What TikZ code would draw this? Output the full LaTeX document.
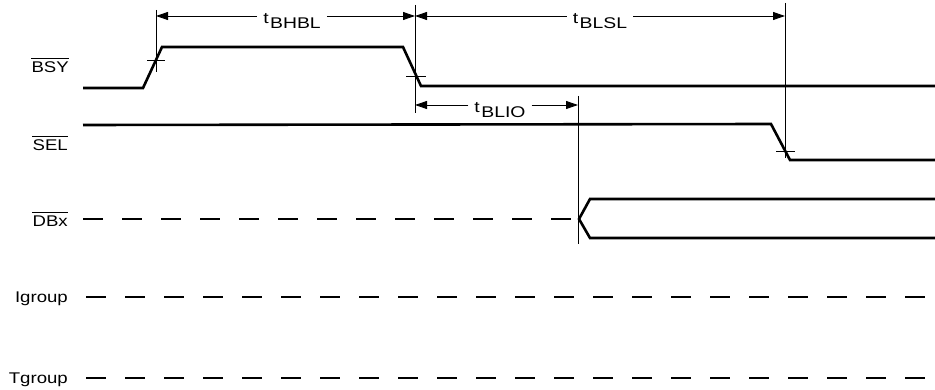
\documentclass[tikz,border=0pt]{standalone}
\usepackage{fontspec}
\setmainfont{Liberation Sans}
\newfontfamily\sigfont[FakeStretch=1.2]{Liberation Sans}
\newfontfamily\timefont[FakeStretch=1.25]{Liberation Sans}
\usetikzlibrary{arrows.meta}
\newcommand{\tlabel}[1]{t\kern1.5pt\raisebox{-5pt}{#1}}

\begin{document}
\begin{tikzpicture}[
x=1pt,y=-1pt,
signal/.style={line width=2.6pt},
floatsig/.style={line width=2.6pt,dash pattern=on 20pt off 19pt},
extline/.style={line width=0.8pt},
overbar/.style={line width=1.2pt},
dimline/.style={line width=0.9pt,-{Triangle[length=12pt,width=8pt]}},
siglabel/.style={anchor=base east,inner sep=0pt,
font=\sigfont\fontsize{15.5}{18}\selectfont},
timelabel/.style={anchor=base,inner xsep=6pt,inner ysep=0pt,
font=\timefont\fontsize{15.5}{18}\selectfont}
]
\useasboundingbox (0,0) rectangle (935,390);

% signal names
\node[siglabel] (bsy) at (69,73) {BSY};
\node[siglabel] (sel) at (68,151) {SEL};
\node[siglabel] (dbx) at (68,227) {DBx};
\node[siglabel] (igroup) at (68,303) {Igroup};
\node[siglabel] (tgroup) at (68,383) {Tgroup};
\foreach \s in {bsy,sel,dbx}
  \draw[overbar] ([yshift=3.5pt]\s.north west) -- ([yshift=3.5pt]\s.north east);

% waveforms
\draw[signal] (83,88) -- (143,88) -- (162,47) -- (403,47) -- (421,86) -- (935,86);
\draw[signal] (83,125) -- (771,124) -- (790,160) -- (935,160);
\draw[floatsig] (83,219) -- (580,219);
\draw[signal] (935,199) -- (590,199) -- (579,219) -- (590,238) -- (935,238);
\draw[floatsig] (86,297) -- (925,297);
\draw[floatsig] (86,378) -- (925,378);

% reference lines and crossing ticks
\draw[extline] (156,10) -- (156,72);
\draw[extline] (415,5) -- (415,113);
\draw[extline] (785,3) -- (785,158);
\draw[extline] (578,96) -- (578,244);
\draw[extline] (147,60) -- (165,60);
\draw[extline] (406,76) -- (426,76);
\draw[extline] (776,151) -- (795,151);

% timing
\coordinate (bhblL) at (156,16);
\coordinate (bhblR) at (415,16);
\coordinate (blslL) at (415,16);
\coordinate (blslR) at (785,16);
\coordinate (blioL) at (415,105);
\coordinate (blioR) at (578,105);

\node[timelabel] (bhbl) at (292,24) {\tlabel{BHBL}};
\node[timelabel] (blsl) at (600,24) {\tlabel{BLSL}};
\node[timelabel] (blio) at (500,113) {\tlabel{BLIO}};

\draw[dimline] (bhbl.west |- bhblL) -- (bhblL);
\draw[dimline] (bhbl.east |- bhblR) -- (bhblR);
\draw[dimline] (blsl.west |- blslL) -- (blslL);
\draw[dimline] (blsl.east |- blslR) -- (blslR);
\draw[dimline] (blio.west |- blioL) -- (blioL);
\draw[dimline] (blio.east |- blioR) -- (blioR);

\end{tikzpicture}
\end{document}
